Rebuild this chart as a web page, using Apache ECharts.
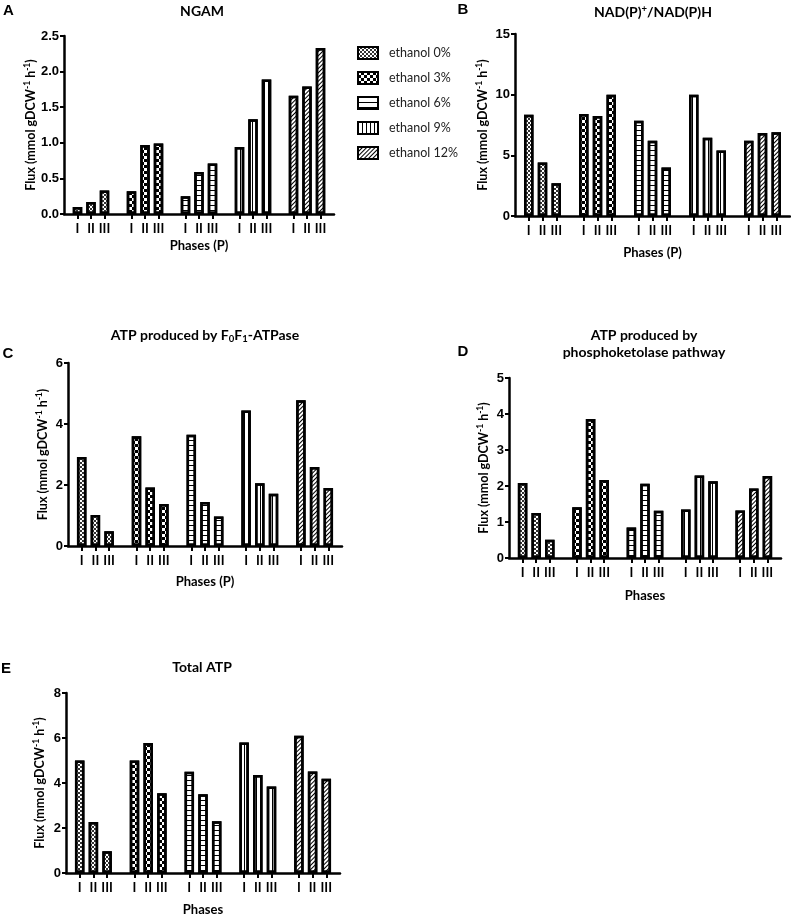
<!DOCTYPE html>
<html><head><meta charset="utf-8">
<script src="https://cdn.jsdelivr.net/npm/echarts@6/dist/echarts.min.js"></script>
<style>html,body{margin:0;padding:0;background:#fff}#c{width:791px;height:918px}</style>
</head><body><div id="c"></div><script>
// ---- data ----
const groupNames = ['ethanol 0%', 'ethanol 3%', 'ethanol 6%', 'ethanol 9%', 'ethanol 12%'];
const phaseLabels = ['I', 'II', 'III'];

// A: NGAM  (phase I, II, III)
const ngam_e0 = [0.10, 0.17, 0.33];
const ngam_e3 = [0.32, 0.97, 0.99];
const ngam_e6 = [0.25, 0.59, 0.71];
const ngam_e9 = [0.94, 1.33, 1.89];
const ngam_e12 = [1.66, 1.79, 2.33];

// B: NAD(P)+/NAD(P)H
const nad_e0 = [8.35, 4.40, 2.70];
const nad_e3 = [8.40, 8.25, 10.0];
const nad_e6 = [7.85, 6.20, 4.00];
const nad_e9 = [10.0, 6.45, 5.40];
const nad_e12 = [6.20, 6.85, 6.90];

// C: ATP produced by F0F1-ATPase
const atpase_e0 = [2.92, 1.02, 0.48];
const atpase_e3 = [3.60, 1.92, 1.38];
const atpase_e6 = [3.65, 1.44, 0.97];
const atpase_e9 = [4.44, 2.06, 1.71];
const atpase_e12 = [4.78, 2.59, 1.90];

// D: ATP produced by phosphoketolase pathway
const pk_e0 = [2.08, 1.25, 0.51];
const pk_e3 = [1.41, 3.86, 2.17];
const pk_e6 = [0.85, 2.06, 1.31];
const pk_e9 = [1.35, 2.29, 2.13];
const pk_e12 = [1.32, 1.93, 2.28];

// E: Total ATP
const total_e0 = [5.00, 2.27, 0.97];
const total_e3 = [5.00, 5.78, 3.54];
const total_e6 = [4.50, 3.50, 2.30];
const total_e9 = [5.80, 4.36, 3.85];
const total_e12 = [6.10, 4.51, 4.19];

// y-axis ranges
const yMaxs = [2.5, 15, 6, 5, 8];
const yIntervals = [0.5, 5, 2, 1, 2];

// ---- build ----
const panelValues = [
  [ngam_e0, ngam_e3, ngam_e6, ngam_e9, ngam_e12],
  [nad_e0, nad_e3, nad_e6, nad_e9, nad_e12],
  [atpase_e0, atpase_e3, atpase_e6, atpase_e9, atpase_e12],
  [pk_e0, pk_e3, pk_e6, pk_e9, pk_e12],
  [total_e0, total_e3, total_e6, total_e9, total_e12]
];

// categories: spacer, I, II, III, spacer, ... , spacer
const cats = [''];
groupNames.forEach(() => { phaseLabels.forEach(p => cats.push(p)); cats.push(''); });

const layouts = [
  {left: 64, top: 36, width: 270, height: 178, xName: 'Phases (P)', xGap: 25, yGap: 23.5},
  {left: 515, top: 34, width: 275, height: 182, xName: 'Phases (P)', xGap: 30, yGap: 25},
  {left: 68, top: 363, width: 274, height: 183, xName: 'Phases (P)', xGap: 29, yGap: 18},
  {left: 509, top: 378, width: 272, height: 180, xName: 'Phases', xGap: 31, yGap: 18},
  {left: 66, top: 693, width: 274, height: 180, xName: 'Phases', xGap: 30, yGap: 19}
];

const decals = [
  {symbol: 'rect', symbolSize: 1, dashArrayX: [[2, 2], [0, 2, 2, 0]], dashArrayY: [2, 0], color: '#333'},
  {symbol: 'rect', symbolSize: 1, dashArrayX: [[3, 3], [0, 3, 3, 0]], dashArrayY: [3, 0], color: '#000'},
  {symbol: 'rect', symbolSize: 1, dashArrayX: [1, 0], dashArrayY: [1, 4], color: '#000'},
  {symbol: 'rect', symbolSize: 1, dashArrayX: [1, 3], dashArrayY: [1, 0], color: '#000'},
  {symbol: 'rect', symbolSize: 1, dashArrayX: [1, 0], dashArrayY: [1, 2], rotation: -Math.PI / 4, color: '#000'}
];

const isLabel = (idx, val) => val !== '';
const boldLato = {fontFamily: 'Lato', fontWeight: 'bold', color: '#000'};
const yName = '{n|Flux (mmol gDCW}{s|-1}{n| h}{s|-1}{n|)}';
const yRich = {
  n: {fontFamily: 'Lato', fontWeight: 'bold', fontSize: 12.5, color: '#000', lineHeight: 15},
  s: {fontFamily: 'Lato', fontWeight: 'bold', fontSize: 8.5, color: '#000', verticalAlign: 'top', lineHeight: 10}
};

const grid = [], xAxis = [], yAxis = [], series = [];
layouts.forEach((L, p) => {
  grid.push({left: L.left, top: L.top, width: L.width, height: L.height, containLabel: false, outerBoundsMode: 'none'});
  xAxis.push({
    type: 'category', gridIndex: p, data: cats, boundaryGap: false,
    axisLine: {lineStyle: {color: '#000', width: 2.5}},
    axisTick: {interval: isLabel, length: 5, lineStyle: {color: '#000', width: 2}},
    axisLabel: {interval: isLabel, margin: 8, fontFamily: 'Lato', fontWeight: 'bold', fontSize: 13, color: '#000'},
    splitLine: {show: false},
    name: L.xName, nameLocation: 'middle', nameGap: L.xGap,
    nameTextStyle: Object.assign({fontSize: 13}, boldLato)
  });
  yAxis.push({
    type: 'value', gridIndex: p, min: 0, max: yMaxs[p], interval: yIntervals[p],
    axisLine: {show: true, lineStyle: {color: '#000', width: 2.5}},
    axisTick: {show: true, length: 4, lineStyle: {color: '#000', width: 2}},
    splitLine: {show: false},
    axisLabel: {margin: 5, fontFamily: 'Liberation Sans', fontWeight: 'bold', fontSize: 13, color: '#000',
      formatter: p === 0 ? (v => v.toFixed(1)) : (v => String(v))},
    name: yName, nameLocation: 'middle', nameGap: L.yGap,
    nameTextStyle: {fontFamily: 'Lato', fontWeight: 'bold', fontSize: 12.5, color: '#000', rich: yRich}
  });
  panelValues[p].forEach((vals, g) => {
    const data = cats.map(() => '-');
    vals.forEach((v, j) => { data[1 + 4 * g + j] = v; });
    series.push({
      type: 'bar', name: groupNames[g], xAxisIndex: p, yAxisIndex: p, stack: 'panel' + p,
      barWidth: 9.5, data: data,
      itemStyle: {color: '#fff', borderColor: '#000', borderWidth: 2.5, decal: decals[g]},
      emphasis: {disabled: true}
    });
  });
});

const letterFont = 'bold 15px "Liberation Sans"';
const titleStyle = (x, y, text, rich) => ({
  type: 'text', x: x, y: y,
  style: Object.assign({text: text, fontFamily: 'Lato', fontWeight: 'bold', fontSize: 14, fill: '#000', align: 'center', verticalAlign: 'middle'},
    rich ? {rich: rich} : {})
});
const supRich = {
  n: {fontFamily: 'Lato', fontWeight: 'bold', fontSize: 14, fill: '#000', lineHeight: 17},
  s: {fontFamily: 'Lato', fontWeight: 'bold', fontSize: 9.5, fill: '#000', verticalAlign: 'top', lineHeight: 10},
  b: {fontFamily: 'Lato', fontWeight: 'bold', fontSize: 9.5, fill: '#000', verticalAlign: 'bottom', lineHeight: 10}
};
const letter = (x, y, t) => ({type: 'text', x: x, y: y, style: {text: t, font: letterFont, fill: '#000', align: 'center', verticalAlign: 'middle'}});

const option = {
  animation: false,
  backgroundColor: '#fff',
  legend: {
    orient: 'vertical', left: 352, top: 41, itemWidth: 20, itemHeight: 12, itemGap: 11,
    icon: 'rect', selectedMode: false, data: groupNames,
    itemStyle: {borderColor: '#000', borderWidth: 2},
    textStyle: {fontFamily: 'Lato', fontSize: 12.5, color: '#222', padding: [0, 0, 0, 6]}
  },
  grid: grid, xAxis: xAxis, yAxis: yAxis, series: series,
  graphic: [
    letter(8.5, 11, 'A'), letter(463, 10, 'B'), letter(8, 354, 'C'), letter(463, 352, 'D'), letter(6, 669, 'E'),
    titleStyle(202, 11, 'NGAM'),
    titleStyle(653, 12, '{n|NAD(P)}{s|+}{n|/NAD(P)H}', supRich),
    titleStyle(205, 335, '{n|ATP produced by F}{b|0}{n|F}{b|1}{n|-ATPase}', supRich),
    titleStyle(644, 335, 'ATP produced by'),
    titleStyle(644, 352.5, 'phosphoketolase pathway'),
    titleStyle(202, 667, 'Total ATP')
  ]
};
const chart = echarts.init(document.getElementById('c'), null, {renderer: 'canvas'});
chart.setOption(option);
</script></body></html>
